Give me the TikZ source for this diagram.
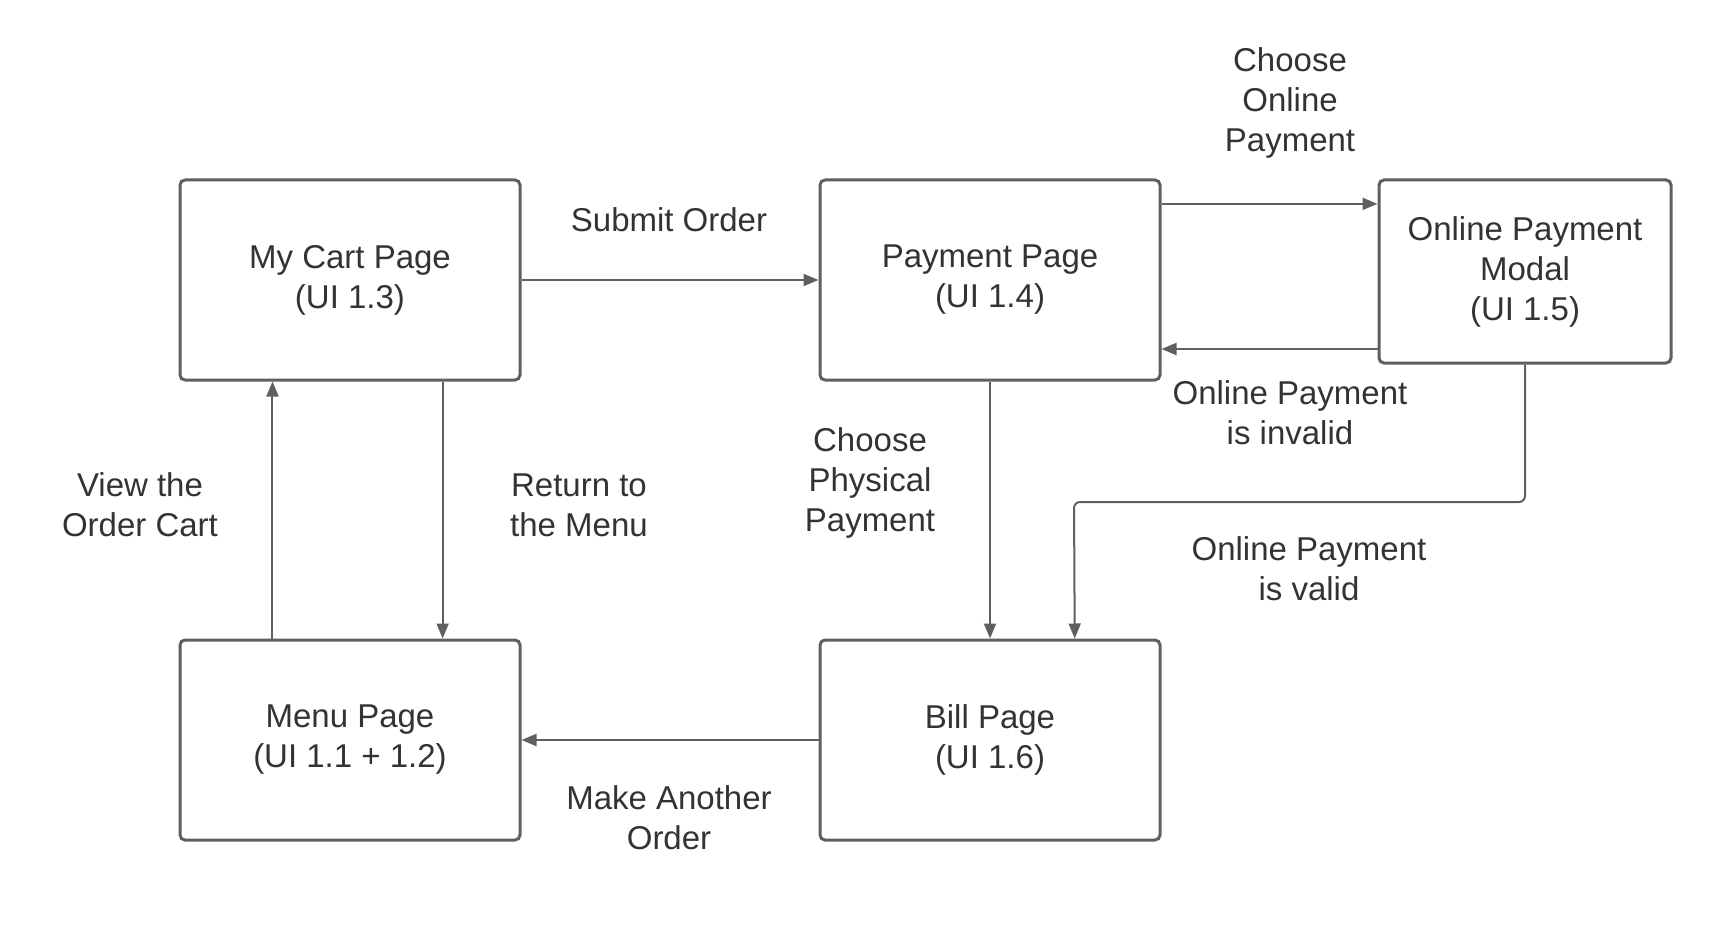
\documentclass[tikz,border=0pt]{standalone}
\usepackage{fontspec}
\setmainfont{Liberation Sans}
\usetikzlibrary{arrows.meta,calc}
\definecolor{linegray}{HTML}{5F5F5F}
\definecolor{textgray}{HTML}{333333}
\tikzset{
  page/.style={draw=linegray, line width=1.5pt, rounded corners=2.5pt, fill=white,
    minimum width=170pt, minimum height=100pt, align=center, text=textgray,
    font=\fontsize{16.5pt}{20pt}\selectfont, inner sep=0pt},
  lbl/.style={align=center, text=textgray, font=\fontsize{16.5pt}{20pt}\selectfont, inner sep=0pt},
  arr/.style={draw=linegray, line width=1pt, -{Triangle[length=7.5pt,width=6pt]}},
}
\begin{document}
\begin{tikzpicture}[x=0.5pt,y=-0.5pt]
\useasboundingbox (0,0) rectangle (1711,930);
\node[page] (cart) at (350,280) {My Cart Page\\(UI 1.3)};
\node[page] (pay) at (990,280) {Payment Page\\(UI 1.4)};
\node[page, minimum width=146pt, minimum height=91.5pt] (modal) at (1525,271.5) {Online Payment\\Modal\\(UI 1.5)};
\node[page] (menu) at (350,740) {Menu Page\\(UI 1.1 + 1.2)};
\node[page] (bill) at (990,740) {Bill Page\\(UI 1.6)};

\coordinate (pOut) at ($(pay.north east)!0.125!(pay.south east)$);
\coordinate (pIn) at ($(pay.north east)!0.84!(pay.south east)$);
\coordinate (bIn) at ($(bill.north west)!0.747!(bill.north east)$);
\coordinate (mUp) at ($(menu.north west)!0.274!(menu.north east)$);
\coordinate (cUp) at ($(cart.south west)!0.274!(cart.south east)$);
\coordinate (cDn) at ($(cart.south west)!0.77!(cart.south east)$);
\coordinate (mDn) at ($(menu.north west)!0.77!(menu.north east)$);
\coordinate (bend) at (1074,502);

\draw[arr] (cart.east) -- (pay.west);
\draw[arr] (pOut) -- (modal.west |- pOut);
\draw[arr] (modal.west |- pIn) -- (pIn);
\draw[arr] (pay.south) -- (bill.north);
\draw[arr, rounded corners=3pt] (modal.south) |- (bend) -- (bIn);
\draw[arr] (bill.west) -- (menu.east);
\draw[arr] (mUp) -- (cUp);
\draw[arr] (cDn) -- (mDn);

\node[lbl] (l1) at (669,220) {Submit Order};
\node[lbl] (l2) at (1290,103) {Choose\\Online\\Payment};
\node[lbl] (l3) at (1290,413) {Online Payment\\is invalid};
\node[lbl] (l4) at (870,483) {Choose\\Physical\\Payment};
\node[lbl] (l5) at (1309,569) {Online Payment\\is valid};
\node[lbl] (l6) at (669,818) {Make Another\\Order};
\node[lbl] (l7) at (140,505) {View the\\Order Cart};
\node[lbl] (l8) at (579,505) {Return to\\the Menu};
\end{tikzpicture}
\end{document}
